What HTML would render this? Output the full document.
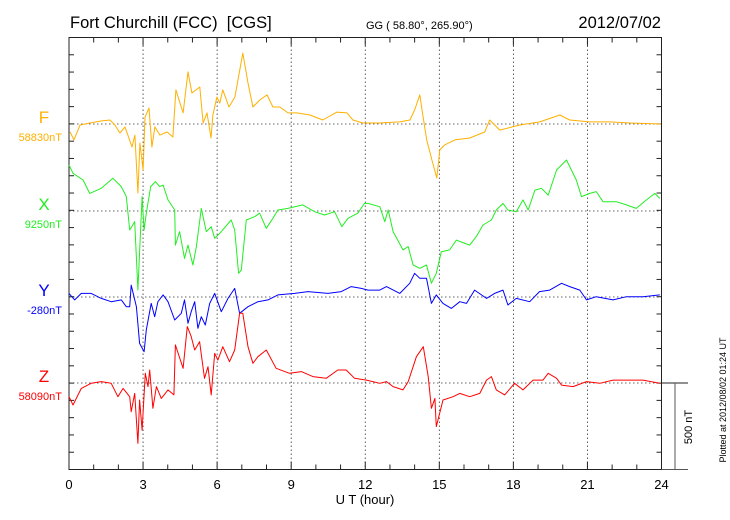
<!DOCTYPE html>
<html><head><meta charset="utf-8">
<style>
html,body{margin:0;padding:0;background:#fff;}
svg{display:block;font-family:"Liberation Sans",sans-serif;}
</style></head>
<body>
<svg id="chart" width="730" height="520" viewBox="0 0 730 520" xmlns="http://www.w3.org/2000/svg">
<text x="70" y="28" font-size="16.5" fill="#000">Fort Churchill (FCC)&#160; [CGS]</text>
<text x="366" y="29" font-size="11" fill="#000">GG ( 58.80°, 265.90°)</text>
<text x="661" y="28" font-size="16.5" text-anchor="end" fill="#000">2012/07/02</text>
<text x="365" y="504" font-size="13" text-anchor="middle" fill="#000">U T (hour)</text>
<text transform="translate(726,400) rotate(-90)" font-size="9" text-anchor="middle" fill="#000">Plotted at 2012/08/02 01:24 UT</text>
<g id="grid"></g>
<g id="axes"></g>
<g id="series"></g>
<g id="labels"></g>
</svg>
<script>
// ---- data (hours, nT deviation from baseline) ----
const xTickLabels = ["0","3","6","9","12","15","18","21","24"];
const componentNames = ["F","X","Y","Z"];
const baselineLabels = ["58830nT","9250nT","-280nT","58090nT"];
const fHours = [0.04,0.2,0.45,0.85,1.26,1.66,1.86,2.06,2.27,2.55,2.67,2.79,2.87,3.0,3.08,3.24,3.36,3.48,3.68,3.97,4.21,4.33,4.62,4.82,4.98,5.3,5.43,5.59,5.75,5.83,5.99,6.11,6.23,6.48,6.72,7.04,7.25,7.45,7.73,8.02,8.26,8.54,8.87,9.23,9.76,10.28,10.85,11.26,11.5,11.9,12.59,13.4,13.81,14.0,14.21,14.33,14.49,14.7,14.9,15.02,15.22,15.63,16.23,16.84,17.04,17.45,18.26,19.07,19.88,20.28,21.09,21.9,22.71,23.97];
const fValues = [-45,-92,-6,6,17,23,-6,-52,-17,-133,-64,-399,-110,-266,40,92,-133,-17,-64,-46,-75,197,64,301,179,214,6,64,-81,52,156,121,197,98,156,410,237,98,139,168,98,98,64,64,52,23,69,64,23,6,6,12,23,81,168,52,-92,-208,-312,-150,-121,-92,-81,-46,23,-35,-6,12,52,23,12,12,6,0];
const xHours = [0,0.16,0.57,0.84,1.31,1.78,2.12,2.32,2.46,2.66,2.79,2.96,3.04,3.13,3.31,3.5,3.67,3.81,4.01,4.28,4.31,4.48,4.68,4.82,5.02,5.16,5.36,5.56,5.76,5.9,6.17,6.57,6.71,6.87,6.98,7.18,7.52,7.72,7.99,8.26,8.46,8.87,9.47,9.95,10.35,10.76,11.05,11.3,11.7,11.97,12.11,12.59,12.79,12.93,13.13,13.53,13.74,13.94,14.21,14.48,14.68,14.88,15.08,15.42,15.69,16.23,16.5,16.77,17.11,17.31,17.58,17.78,18.12,18.39,18.6,18.87,19.14,19.41,19.75,20.15,20.55,20.76,21.09,21.36,21.63,22.17,22.58,22.98,23.39,23.73,23.93];
const xValues = [266,218,179,102,131,189,141,83,-110,-62,-456,83,-110,-13,141,170,141,150,64,6,-197,-119,-274,-197,-312,-206,15,-119,-91,-158,-119,-52,-110,-360,-341,-52,-33,-13,-100,-42,6,15,35,-4,-23,-4,-91,-42,-13,44,44,25,-62,6,-119,-225,-206,-312,-331,-312,-418,-360,-235,-225,-168,-197,-148,-81,-52,6,44,6,-4,64,6,121,131,92,237,295,179,83,102,112,54,54,35,15,64,102,73];
const yHours = [0,0.23,0.5,0.9,1.31,1.71,2.12,2.32,2.46,2.52,2.73,2.86,3.04,3.13,3.33,3.47,3.6,3.81,4.01,4.28,4.55,4.68,4.82,4.95,5.09,5.22,5.36,5.52,5.7,5.9,6.17,6.44,6.71,6.91,7.25,7.65,8.06,8.46,9.14,9.68,10.49,11.03,11.43,11.84,12.11,12.59,12.86,13.4,13.8,14.0,14.21,14.48,14.68,14.88,15.15,15.49,15.83,16.1,16.43,16.91,17.24,17.58,17.78,18.12,18.66,19.06,19.47,19.95,20.28,20.69,20.96,21.36,22.04,22.58,23.25,23.93];
const yValues = [21,-17,21,21,-8,-27,-17,-56,-56,69,-56,-268,-316,-191,-37,-114,-27,12,-27,-133,-94,-17,-152,-85,-27,-181,-114,-162,-37,21,-85,-8,50,-94,-56,-27,-17,12,21,31,21,31,60,50,40,40,60,21,79,137,108,108,-37,12,-37,-66,-27,-37,40,-8,21,40,-46,-8,-27,31,40,79,60,40,-17,2,-17,2,2,12];
const zHours = [0,0.16,0.5,0.9,1.31,1.71,1.98,2.19,2.46,2.52,2.66,2.79,2.86,2.96,3.09,3.2,3.27,3.4,3.54,3.74,4.01,4.25,4.31,4.62,4.79,4.95,5.09,5.29,5.49,5.63,5.76,5.9,6.03,6.23,6.5,6.71,6.91,7.04,7.25,7.45,7.65,7.99,8.39,8.93,9.41,9.88,10.42,10.89,11.23,11.57,12.05,12.59,12.86,13.13,13.53,13.74,14.07,14.35,14.55,14.68,14.82,14.88,15.15,15.56,15.83,16.23,16.64,16.91,17.11,17.31,17.65,18.05,18.39,18.8,19.2,19.41,19.75,19.95,20.42,20.96,21.5,22.04,22.58,23.25,23.93];
const zValues = [-79,-127,-31,-2,8,-2,-79,-31,-79,-166,-60,-349,-98,-272,56,-21,75,-146,-21,-89,-40,-69,220,85,326,268,191,239,27,94,-69,171,133,210,123,191,403,403,210,114,152,191,85,56,66,37,27,75,75,27,17,-2,8,-21,-40,8,152,210,37,-146,-89,-252,-98,-79,-60,-79,-60,17,37,-40,-69,-2,-40,17,17,56,27,-12,-21,8,-2,17,17,17,-2];

// ---- layout ----
const L=69, R=661.5, T=37.5, B=469.5;
const pxPerNT = 17.3/100;
const baselines = [124,211,297,383];
const colors = ["#ffb000","#22ee22","#0000ff","#ff0000"];
const xScale = h => L + (R-L)*h/24;
const yScale = (v,i) => baselines[i] - v*pxPerNT;
const NS="http://www.w3.org/2000/svg";
function mk(tag, parent, attrs){const e=document.createElementNS(NS,tag);for(const k in attrs)e.setAttribute(k,attrs[k]);parent.appendChild(e);return e;}

const grid=document.getElementById('grid');
for(let h=3;h<24;h+=3){
  const gl=mk('line',grid,{x1:xScale(h),x2:xScale(h),y1:T,y2:B,stroke:'#333','stroke-width':0.8,'stroke-dasharray':'1.5,2.5'});
  
  
}
baselines.forEach(b=>{
  const gl=mk('line',grid,{x1:L,x2:R,y1:b,y2:b,stroke:'#333','stroke-width':0.8,'stroke-dasharray':'1.5,2.5'});
  
  
});

const axes=document.getElementById('axes');
const frame=mk('rect',axes,{x:L,y:T,width:R-L,height:B-T,fill:'none',stroke:'#222','stroke-width':1});


for(let h=0;h<=24;h++){
  const len = h%3===0?8:5;
  const x=xScale(h);
  const t1=mk('line',axes,{x1:x,x2:x,y1:B,y2:B-len,stroke:'#222','stroke-width':1});
  
  
  const t2=mk('line',axes,{x1:x,x2:x,y1:T,y2:T+len,stroke:'#222','stroke-width':1});
  
  
}
xTickLabels.forEach((lab,i)=>{
  const t=mk('text',axes,{x:xScale(i*3),y:489,'font-size':13,'text-anchor':'middle',fill:'#000'});
  t.textContent=lab;
  
  
});
for(let k=0;k<=25;k++){
  const y=T+k*(B-T)/25;
  const a=mk('line',axes,{x1:L,x2:L+5,y1:y,y2:y,stroke:'#222','stroke-width':1});
  
  
  const b=mk('line',axes,{x1:R,x2:R-5,y1:y,y2:y,stroke:'#222','stroke-width':1});
  
  
}
// scale bar 500 nT
const sb1=mk('line',axes,{x1:R,x2:688,y1:383,y2:383,stroke:'#222','stroke-width':1});


const sb2=mk('line',axes,{x1:675,x2:675,y1:383,y2:383+500*pxPerNT,stroke:'#555','stroke-width':1});


const sb3=mk('line',axes,{x1:R,x2:688,y1:B,y2:B,stroke:'#555','stroke-width':1});


const sbt=mk('text',axes,{transform:'translate(692,427) rotate(-90)','font-size':11,'text-anchor':'middle',fill:'#000'});
sbt.textContent='500 nT';



const series=document.getElementById('series');
const H=[fHours,xHours,yHours,zHours], V=[fValues,xValues,yValues,zValues];
const seriesNames=['f-series-line','x-series-line','y-series-line','z-series-line'];
for(let i=0;i<4;i++){
  const pts=H[i].map((h,j)=>xScale(h).toFixed(1)+','+yScale(V[i][j],i).toFixed(1)).join(' ');
  const pl=mk('polyline',series,{points:pts,fill:'none',stroke:colors[i],'stroke-width':1,'stroke-linejoin':'round'});
  
  
}

const labels=document.getElementById('labels');
componentNames.forEach((n,i)=>{
  const t=mk('text',labels,{x:44,y:baselines[i]-1,'font-size':17,'text-anchor':'middle',fill:colors[i]});
  t.textContent=n;
  
  
  const b=mk('text',labels,{x:62,y:baselines[i]+17,'font-size':11,'text-anchor':'end',fill:colors[i]});
  b.textContent=baselineLabels[i];
  
  
});
</script>
</body></html>
